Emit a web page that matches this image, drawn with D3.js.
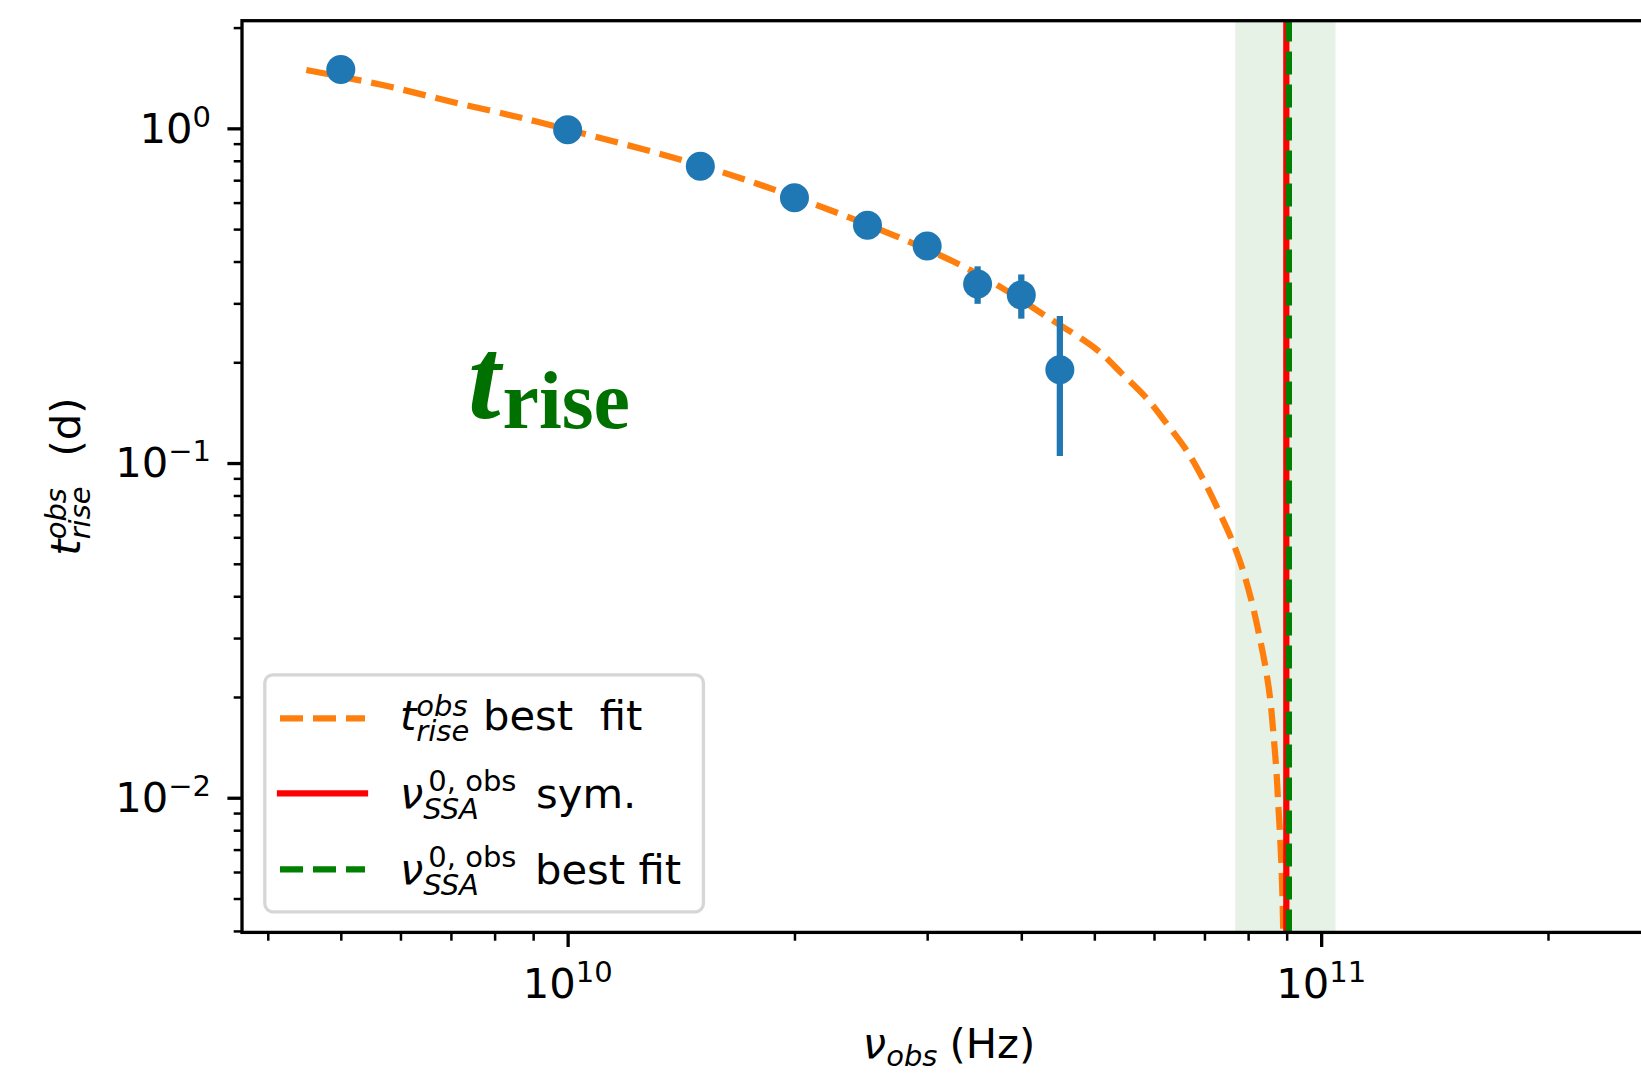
<!DOCTYPE html>
<html>
<head>
<meta charset="utf-8">
<script src="https://cdn.jsdelivr.net/npm/d3@7"></script>
<style>
  body { margin: 0; background: #fff; }
  text { font-family: "DejaVu Sans", sans-serif; fill: #000; }
</style>
</head>
<body>
<svg id="chart" width="1641" height="1080"></svg>
<script>
// observed rise times: frequency (GHz), t_rise (d), 1-sigma error (d)
var obsFreq = [5, 10, 15, 20, 25, 30, 35, 40, 45];
var obsRise = [1.50, 0.99, 0.77, 0.62, 0.513, 0.445, 0.343, 0.318, 0.19];
var obsErr = [0.03, 0.02, 0.02, 0.015, 0.015, 0.015, 0.044, 0.048, 0.085];

// best fit curve
var fitFreq = [4.5, 5.68, 7.01, 8.56, 10, 15, 20, 27.05, 32.5, 37.5, 43.2, 50.4, 54.4,
  58.7, 62.4, 66.3, 69.8, 72.9, 76.1, 78.7, 81.0, 82.9, 84.5, 85.6, 86.5, 87.2, 87.7,
  88.2, 88.6, 88.9, 89.06, 89.17];
var fitRise = [1.494, 1.347, 1.201, 1.083, 0.992, 0.775, 0.624, 0.480, 0.400, 0.336,
  0.274, 0.218, 0.185, 0.156, 0.131, 0.109, 0.089, 0.073, 0.059, 0.048, 0.038, 0.030,
  0.024, 0.0196, 0.0152, 0.0121, 0.0096, 0.0077, 0.0061, 0.0048, 0.0039, 0.0030];

// nu_SSA^0 (GHz): symmetric value, best fit and its band
var nuSym = 89.9;
var nuBest = 90.6;
var nuBand = [76.9, 104.5];

var xTicks = [1e10, 1e11];
var xTickExp = ["10", "11"];
var yTicks = [1, 0.1, 0.01];
var yTickExp = ["0", "\u22121", "\u22122"];

var xLimits = [3.697e9, 2.782e11];
var yLimits = [0.00396, 2.097];

var FS = 41.7, SUP = 29;
var axLeft = 242, axRight = 1656, axTop = 20.7, axBottom = 932.4;

var svg = d3.select("#chart");

var x = d3.scaleLog().domain(xLimits).range([axLeft, axRight]);
var y = d3.scaleLog().domain(yLimits).range([axBottom, axTop]);

svg.append("defs").append("clipPath")
  .attr("id", "plot-area")
  .append("rect")
    .attr("x", axLeft)
    .attr("y", axTop)
    .attr("width", axRight - axLeft)
    .attr("height", axBottom - axTop);

var plot = svg.append("g").attr("clip-path", "url(#plot-area)");

// fit band
plot.append("rect")
  .attr("x", x(nuBand[0] * 1e9))
  .attr("y", axTop)
  .attr("width", x(nuBand[1] * 1e9) - x(nuBand[0] * 1e9))
  .attr("height", axBottom - axTop)
  .style("fill", "#008000")
  .style("fill-opacity", 0.1);

// best fit curve
var fitData = fitFreq.map(function (f, i) { return [f * 1e9, fitRise[i]]; });
plot.append("path")
  .datum(fitData)
  .attr("d", d3.line()
    .x(function (d) { return x(d[0]); })
    .y(function (d) { return y(d[1]); })
    .curve(d3.curveCatmullRom.alpha(0.5)))
  .style("fill", "none")
  .style("stroke", "#ff7f0e")
  .style("stroke-width", 6.25)
  .style("stroke-dasharray", "23,10");

// data points with error bars
var obs = obsFreq.map(function (f, i) { return { f: f * 1e9, t: obsRise[i], e: obsErr[i] }; });

plot.selectAll(".err")
  .data(obs)
  .enter().append("line")
    .attr("class", "err")
    .attr("x1", function (d) { return x(d.f); })
    .attr("x2", function (d) { return x(d.f); })
    .attr("y1", function (d) { return y(d.t - d.e); })
    .attr("y2", function (d) { return y(d.t + d.e); })
    .style("stroke", "#1f77b4")
    .style("stroke-width", 6.25);

plot.selectAll(".pt")
  .data(obs)
  .enter().append("circle")
    .attr("class", "pt")
    .attr("cx", function (d) { return x(d.f); })
    .attr("cy", function (d) { return y(d.t); })
    .attr("r", 14.5)
    .style("fill", "#1f77b4");

// vertical lines
plot.append("line")
  .attr("x1", x(nuSym * 1e9)).attr("x2", x(nuSym * 1e9))
  .attr("y1", axBottom).attr("y2", axTop)
  .style("stroke", "#ff0000")
  .style("stroke-width", 6.25);

plot.append("line")
  .attr("x1", x(nuBest * 1e9)).attr("x2", x(nuBest * 1e9))
  .attr("y1", axBottom).attr("y2", axTop)
  .style("stroke", "#008000")
  .style("stroke-width", 6.25)
  .style("stroke-dasharray", "23,10");

// axes ticks
function minorTicks(lim) {
  var out = [];
  for (var k = Math.floor(Math.log10(lim[0])); k <= Math.ceil(Math.log10(lim[1])); k++) {
    for (var m = 2; m <= 9; m++) {
      var v = m * Math.pow(10, k);
      if (v >= lim[0] && v <= lim[1]) out.push(v);
    }
  }
  return out;
}

function styleAxis(g, w) {
  g.select(".domain").remove();
  g.selectAll(".tick line").style("stroke", "#000").style("stroke-width", w);
}

svg.append("g")
  .attr("transform", "translate(0," + axBottom + ")")
  .call(d3.axisBottom(x).tickValues(minorTicks(xLimits)).tickSize(8.3).tickFormat(""))
  .call(styleAxis, 2.5);
svg.append("g")
  .attr("transform", "translate(0," + axBottom + ")")
  .call(d3.axisBottom(x).tickValues(xTicks).tickSize(14.6).tickFormat(""))
  .call(styleAxis, 3.3);
svg.append("g")
  .attr("transform", "translate(" + axLeft + ",0)")
  .call(d3.axisLeft(y).tickValues(minorTicks(yLimits)).tickSize(8.3).tickFormat(""))
  .call(styleAxis, 2.5);
svg.append("g")
  .attr("transform", "translate(" + axLeft + ",0)")
  .call(d3.axisLeft(y).tickValues(yTicks).tickSize(14.6).tickFormat(""))
  .call(styleAxis, 3.3);

// spines
svg.append("rect")
  .attr("x", axLeft)
  .attr("y", axTop)
  .attr("width", axRight - axLeft)
  .attr("height", axBottom - axTop)
  .style("fill", "none")
  .style("stroke", "#000")
  .style("stroke-width", 3.3);

// text helpers
function piece(g, str, px, py, size, italic) {
  var t = g.append("text")
    .attr("x", px)
    .attr("y", py)
    .style("font-size", size + "px")
    .style("white-space", "pre")
    .text(str);
  if (italic) t.style("font-style", "italic");
  return t.node().getComputedTextLength();
}

function power(g, exp) {
  var w1 = piece(g, "10", 0, 0, FS);
  var w2 = piece(g, exp, w1, -16, SUP);
  return w1 + w2;
}

yTicks.forEach(function (v, i) {
  var g = svg.append("g");
  var w = power(g, yTickExp[i]);
  g.attr("transform", "translate(" + (211 - w) + "," + (y(v) + 14.4) + ")");
});

xTicks.forEach(function (v, i) {
  var g = svg.append("g");
  var w = power(g, xTickExp[i]);
  g.attr("transform", "translate(" + (x(v) - w / 2) + ",997.7)");
});

// x label
var xl = svg.append("g");
var cx = piece(xl, "\u03bd", 0, 0, FS, true);
cx += piece(xl, "obs", cx, 8, SUP, true);
cx += 12;
cx += piece(xl, "(Hz)", cx, 0, FS);
xl.attr("transform", "translate(" + ((axLeft + axRight) / 2 - cx / 2) + ",1058)");

// y label
var yl = svg.append("g");
var cy = piece(yl, "t", 0, 0, FS, true);
var ws = piece(yl, "obs", cy, -14, SUP, true);
var wb = piece(yl, "rise", cy, 10, SUP, true);
cy += Math.max(ws, wb) + 30;
cy += piece(yl, "(d)", cy, 0, FS);
yl.attr("transform", "translate(79.5," + ((axTop + axBottom) / 2 + cy / 2) + ") rotate(-90)");

// annotation
var ann = svg.append("g");
var ta = ann.append("text")
  .attr("x", 468)
  .attr("y", 418)
  .style("font-family", "'Liberation Serif', serif")
  .style("font-size", "117px")
  .style("font-weight", "bold")
  .style("font-style", "italic")
  .style("fill", "#007000")
  .text("t");
ann.append("text")
  .attr("x", 468 + ta.node().getComputedTextLength() + 2)
  .attr("y", 427.7)
  .style("font-family", "'Liberation Serif', serif")
  .style("font-size", "82px")
  .style("font-weight", "bold")
  .style("fill", "#007000")
  .text("rise");

// legend
var legend = svg.append("g");
legend.append("rect")
  .attr("x", 264.8)
  .attr("y", 674.8)
  .attr("width", 438.6)
  .attr("height", 237)
  .attr("rx", 8)
  .style("fill", "#fff")
  .style("stroke", "#d6d6d6")
  .style("stroke-width", 3.3);

var rows = [
  { color: "#ff7f0e", dash: "23,10", ly: 718.3, base: 730, sym: "t", sup: "obs", supItalic: true, sub: "rise", supDy: -14, rest: "best  fit", restX: 483 },
  { color: "#ff0000", dash: null, ly: 793.3, base: 808, sym: "\u03bd", sup: "0, obs", supItalic: false, sub: "SSA", supDy: -17, rest: "sym.", restX: 536 },
  { color: "#008000", dash: "23,10", ly: 869.3, base: 883.5, sym: "\u03bd", sup: "0, obs", supItalic: false, sub: "SSA", supDy: -17, rest: "best fit", restX: 535 }
];

rows.forEach(function (r) {
  var ln = legend.append("line")
    .attr("x1", 280).attr("x2", 365)
    .attr("y1", r.ly).attr("y2", r.ly)
    .style("stroke", r.color)
    .style("stroke-width", 6.25);
  if (r.dash) ln.style("stroke-dasharray", r.dash);
  else ln.style("stroke-linecap", "square");

  var g = legend.append("g").attr("transform", "translate(400," + r.base + ")");
  var w = piece(g, r.sym, 0, 0, FS, true);
  piece(g, r.sup, w + (r.supItalic ? 0 : 5), r.supDy, SUP, r.supItalic);
  piece(g, r.sub, w, 11, SUP, true);
  legend.append("text")
    .attr("x", r.restX)
    .attr("y", r.base)
    .style("font-size", FS + "px")
    .style("white-space", "pre")
    .text(r.rest);
});
</script>
</body>
</html>
